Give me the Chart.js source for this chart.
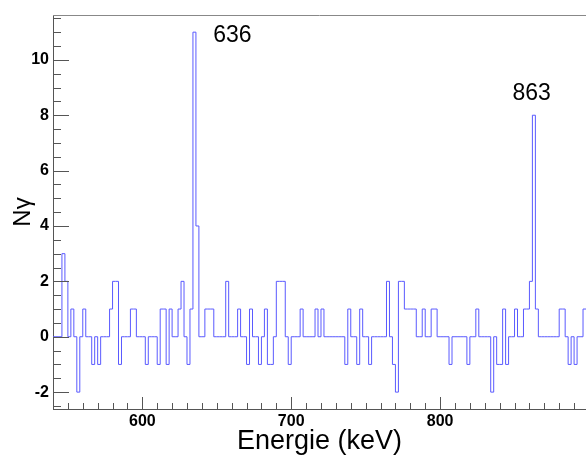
<!DOCTYPE html>
<html>
<head>
<meta charset="UTF-8">
<title>Spectre gamma</title>
<script src="https://cdn.jsdelivr.net/npm/chart.js@4.4.1/dist/chart.umd.min.js"></script>
<style>
    body{margin:0;background:#fff;}
    #wrap{width:586px;height:458px;}
</style>
</head>
<body>
<div id="wrap"><canvas id="chart"></canvas></div>
<script>
// histogram: 2 keV bins starting at 540 keV
const binStart=540;
const binWidth=2;
const counts=[
    0,0,0,3,2,0,1,0,-2,0,          // 540-558
    1,0,0,-1,0,-1,0,0,0,1,         // 560-578
    2,2,-1,0,0,0,1,1,0,0,          // 580-598
    0,-1,0,0,0,-1,1,1,-1,1,        // 600-618
    0,0,1,2,0,-1,1,11,4,0,         // 620-638
    0,1,1,1,0,0,0,0,2,0,           // 640-658
    0,0,1,0,0,-1,1,0,0,-1,         // 660-678
    0,1,-1,-1,0,2,2,2,0,-1,        // 680-698
    0,0,0,1,0,0,0,0,1,0,           // 700-718
    1,0,0,0,0,0,0,0,-1,1,          // 720-738
    0,0,-1,1,0,0,-1,0,0,0,         // 740-758
    0,0,2,0,-1,-2,2,2,1,1,         // 760-778
    1,1,0,0,1,0,0,1,1,0,           // 780-798
    0,0,0,-1,0,0,0,0,0,-1,         // 800-818
    0,0,1,0,0,0,0,-2,0,-1,         // 820-838
    -1,1,-1,0,0,1,0,0,1,1,         // 840-858
    2,8,1,0,0,0,0,0,0,0,           // 860-878
    1,1,0,-1,0,-1,0,0,1            // 880-896
];
const xTickLabels=[600,700,800];
const yTickLabels=[-2,0,2,4,6,8,10];
const peakNames=["636","863"];

const points=counts.map((v,i)=>({x:binStart+i*binWidth,y:v}));
points.push({x:binStart+counts.length*binWidth,y:counts[counts.length-1]});

const FONT="'Liberation Sans', Arial, sans-serif";

// ROOT style ticks pointing into the frame + top frame line + peak labels
const frameDeco={
    id:'frameDeco',
    afterDatasetsDraw(chart,args,opts){
        const {ctx,chartArea:a,scales:{x,y}}=chart;
        ctx.save();
        ctx.strokeStyle='#555';
        ctx.lineWidth=1;
        ctx.beginPath();
        for(let v=Math.ceil(y.min*2)/2; v<=y.max; v+=0.5){
            const py=Math.round(y.getPixelForValue(v))+0.5;
            const len=(Math.abs(v%2)<1e-6)?16:8;
            ctx.moveTo(a.left,py);ctx.lineTo(a.left+len,py);
        }
        for(let v=Math.ceil(x.min/10)*10; v<=x.max; v+=10){
            const px=Math.round(x.getPixelForValue(v))+0.5;
            const len=(v%100===0)?12:6;
            ctx.moveTo(px,a.bottom);ctx.lineTo(px,a.bottom-len);
        }
        ctx.stroke();
        ctx.strokeStyle='#888';
        ctx.beginPath();
        ctx.moveTo(a.left,a.top+0.5);ctx.lineTo(a.right,a.top+0.5);
        ctx.stroke();
        ctx.fillStyle='#000';
        ctx.font='23px '+FONT;
        ctx.textAlign='center';
        ctx.textBaseline='alphabetic';
        opts.labels.forEach((l,i)=>{
            ctx.fillText(peakNames[i],x.getPixelForValue(l.x),y.getPixelForValue(l.y));
        });
        ctx.restore();
    }
};

new Chart(document.getElementById('chart'),{
    type:'line',
    data:{datasets:[{
        data:points,
        stepped:true,
        borderColor:'#5a5aff',
        borderWidth:1,
        pointRadius:0,
        fill:false
    }]},
    options:{
        responsive:true,
        maintainAspectRatio:false,
        animation:false,
        layout:{padding:{top:15,right:0,left:0,bottom:0}},
        plugins:{
            legend:{display:false},
            tooltip:{enabled:false},
            frameDeco:{labels:[{x:660.5,y:10.66},{x:861.5,y:8.55}]}
        },
        scales:{
            x:{
                type:'linear',
                min:540,max:898,
                grid:{drawOnChartArea:false,drawTicks:false},
                border:{display:true,color:'#555'},
                ticks:{
                    stepSize:100,includeBounds:false,padding:3,
                    color:'#000',
                    font:{family:FONT,size:16,weight:'bold'},
                    maxRotation:0,
                    callback:v=>xTickLabels.includes(v)?v:''
                },
                title:{display:true,text:'Energie (keV)',color:'#000',
                    font:{family:FONT,size:27},padding:{top:-5,bottom:0}},
                afterFit(s){s.height=49;}
            },
            y:{
                min:-2.61,max:11.62,
                grid:{drawOnChartArea:false,drawTicks:false},
                border:{display:true,color:'#555'},
                ticks:{
                    stepSize:2,includeBounds:false,padding:4,
                    color:'#000',
                    font:{family:FONT,size:16,weight:'bold'},
                    callback:v=>yTickLabels.includes(v)?v:''
                },
                title:{display:true,text:'Nγ',color:'#000',
                    font:{family:FONT,size:24},padding:{top:9,bottom:0}},
                afterFit(s){s.width=53;}
            }
        }
    },
    plugins:[frameDeco]
});
</script>
</body>
</html>
